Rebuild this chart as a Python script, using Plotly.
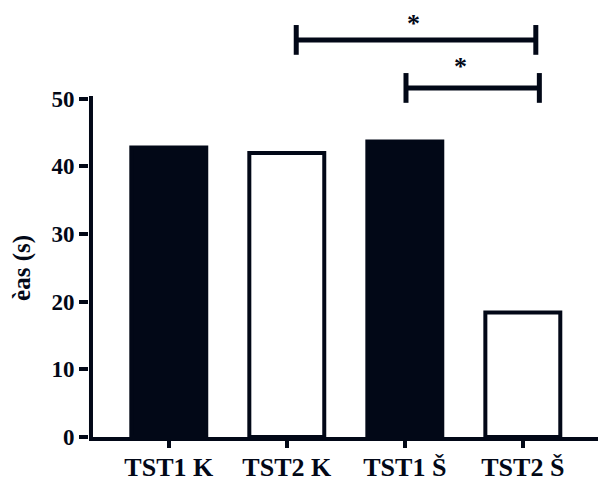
import plotly.graph_objects as go

# ---- data ----
categories = ["TST1 K", "TST2 K", "TST1 Š", "TST2 Š"]
values = [42.8, 42.0, 43.7, 18.4]
y_tick_values = [0, 10, 20, 30, 40, 50]
y_label = "èas (s)"
# significance brackets: (start category position, end category position, height)
sig_start = [1.08, 2.01]
sig_end = [3.11, 3.14]
sig_height = [58.7, 51.6]
sig_text = ["*", "*"]
sig_text_x = [2.07, 2.47]
sig_text_y = [61.2, 54.7]

# ---- style ----
DARK = "#020817"
FONT = "Liberation Serif"
fill_colors = [DARK, "white", DARK, "white"]
x_pos = list(range(len(categories)))

fig = go.Figure()
fig.add_trace(go.Bar(
    x=x_pos, y=values, width=0.635,
    marker=dict(color=fill_colors, line=dict(color=DARK, width=4)),
    showlegend=False, hoverinfo="skip",
))

shapes = []
# y axis line (only up to 50)
shapes.append(dict(type="line", xref="paper", yref="y", x0=0.0039, x1=0.0039,
                   y0=-1, y1=50.4, line=dict(color=DARK, width=4)))
# brackets
tick_half = 2.2
for x0, x1, yh in zip(sig_start, sig_end, sig_height):
    shapes.append(dict(type="line", xref="x", yref="y", x0=x0, x1=x1, y0=yh, y1=yh,
                       line=dict(color=DARK, width=5)))
    for xe in (x0, x1):
        shapes.append(dict(type="line", xref="x", yref="y", x0=xe, x1=xe,
                           y0=yh - tick_half, y1=yh + tick_half,
                           line=dict(color=DARK, width=5)))

annotations = []
for tx, ty, t in zip(sig_text_x, sig_text_y, sig_text):
    annotations.append(dict(x=tx, y=ty, xref="x", yref="y",
                            text=t, showarrow=False, yanchor="middle",
                            font=dict(family=FONT, size=26, color=DARK, weight="bold")))
annotations.append(dict(x=-0.1316, y=25, xref="paper", yref="y", text=y_label,
                        textangle=-90, showarrow=False, xanchor="center", yanchor="middle",
                        font=dict(family=FONT, size=25, color=DARK, weight="bold")))

fig.update_layout(
    width=598, height=477,
    margin=dict(l=89, r=0, t=0, b=40),
    paper_bgcolor="white", plot_bgcolor="white",
    shapes=shapes, annotations=annotations,
    xaxis=dict(
        range=[-0.676, 3.637], tickvals=x_pos, ticktext=categories,
        automargin=False,
        showline=True, linewidth=4, linecolor=DARK,
        ticks="outside", ticklen=7, tickwidth=4, tickcolor=DARK,
        ticklabelstandoff=-3,
        showgrid=False, zeroline=False,
        tickfont=dict(family=FONT, size=26, color=DARK, weight="bold"),
    ),
    yaxis=dict(
        range=[0, 64.6], tickvals=y_tick_values, automargin=False,
        showline=False, ticks="outside", ticklen=9, tickwidth=4, tickcolor=DARK,
        showgrid=False, zeroline=False,
        tickfont=dict(family=FONT, size=23, color=DARK, weight="bold"),
    ),
)

fig.write_html("out.html", config={"displayModeBar": False},
               post_script="document.body.style.margin='0';document.body.style.overflow='hidden';")
